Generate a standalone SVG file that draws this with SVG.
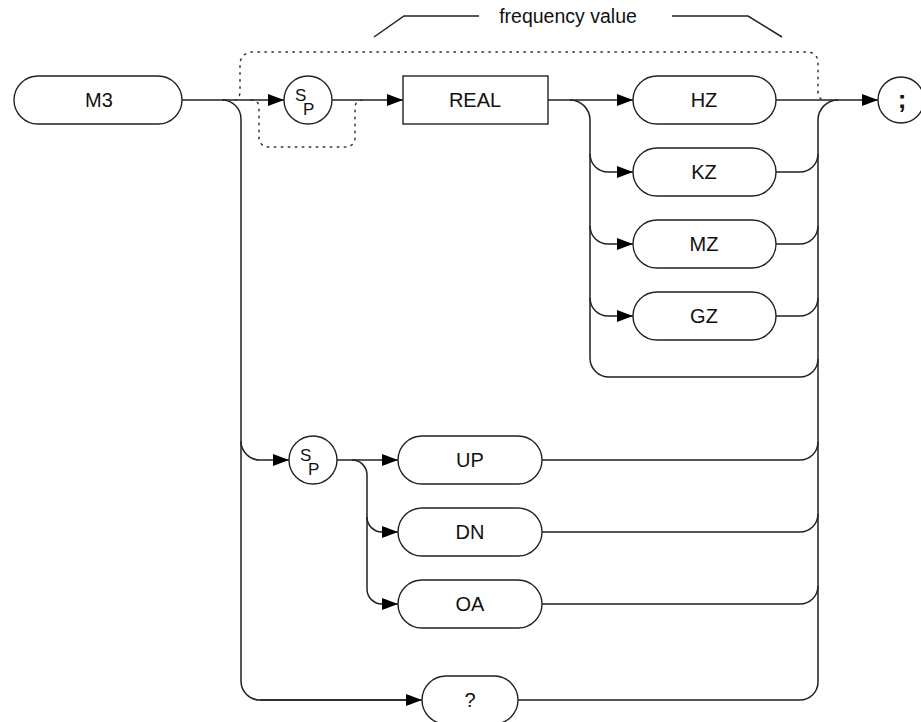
<svg xmlns="http://www.w3.org/2000/svg" width="921" height="722" viewBox="0 0 921 722">
<style>
.n{fill:#fff;stroke:#222;stroke-width:1.4}
.t{font-family:"Liberation Sans",Arial,sans-serif;font-size:20px;fill:#111;text-anchor:middle}
.c{fill:none;stroke:#222;stroke-width:1.5}
.a{fill:none;stroke:#222;stroke-width:1.5;marker-end:url(#ar)}
.d{fill:none;stroke:#333;stroke-width:1.5;stroke-dasharray:1.5 5.5;stroke-linecap:round}
.sp{font-family:"Liberation Sans",Arial,sans-serif;font-size:17px;fill:#111}
</style>
<defs>
<marker id="ar" markerUnits="userSpaceOnUse" markerWidth="16" markerHeight="12" refX="16" refY="6" orient="auto">
<path d="M0,0 L16,6 L0,12 z" fill="#000"/>
</marker>
</defs>
<rect width="921" height="722" fill="#fff"/>
<g id="connectors">
<path class="a" d="M182,100 H284"/>
<path class="a" d="M332,100 H403"/>
<path class="a" d="M548,100 H633"/>
<path class="a" d="M776,100 H878"/>
<path class="c" d="M570,100 A20,20 0 0 1 590,120 V358 A19,19 0 0 0 609,377 H800 A18,18 0 0 0 818,359"/>
<path class="a" d="M590,154 A18,18 0 0 0 608,172 H633"/>
<path class="a" d="M590,226 A18,18 0 0 0 608,244 H633"/>
<path class="a" d="M590,298 A18,18 0 0 0 608,316 H633"/>
<path class="c" d="M776,172 H800 A18,18 0 0 0 818,154"/>
<path class="c" d="M776,244 H800 A18,18 0 0 0 818,226"/>
<path class="c" d="M776,316 H800 A18,18 0 0 0 818,298"/>
<path class="c" d="M838,100 A20,20 0 0 0 818,120 V682 A18,18 0 0 1 800,700 H518"/>
<path class="c" d="M542,460 H800 A18,18 0 0 0 818,442"/>
<path class="c" d="M542,532 H800 A18,18 0 0 0 818,514"/>
<path class="c" d="M542,604 H800 A18,18 0 0 0 818,586"/>
<path class="c" d="M222,100 A19,19 0 0 1 241,119 V681 A19,19 0 0 0 260,700 H406"/>
<path class="a" d="M260,700 H422"/>
<path class="a" d="M241,441 A19,19 0 0 0 260,460 H289"/>
<path class="a" d="M337,460 H398"/>
<path class="c" d="M352,460 A15,15 0 0 1 367,475 V589"/>
<path class="a" d="M367,517 A15,15 0 0 0 382,532 H398"/>
<path class="a" d="M367,589 A15,15 0 0 0 382,604 H398"/>
<path class="d" d="M235,100 Q240,100 240,90 V64 A12,12 0 0 1 252,52 H808 A10,10 0 0 1 818,62 V92 Q818,100 826,100"/>
<path class="d" d="M251,100 Q259,100 259,108 V138 A9,9 0 0 0 268,147 H346 A9,9 0 0 0 355,138 V108 Q355,100 364,100"/>
<path class="c" d="M374,37 L404,16 H479"/>
<path class="c" d="M672,16 H748 L782,37"/>
</g>
<text class="t" x="568" y="23" style="font-size:19.5px">frequency value</text>
<g id="M3"><rect class="n" x="14" y="76" width="168" height="48" rx="24"/><text class="t" x="99" y="107">M3</text></g>
<g id="SP1"><circle class="n" cx="308" cy="100" r="24"/><text class="sp"><tspan x="295" y="101">S</tspan><tspan x="303" y="115">P</tspan></text></g>
<g id="REAL"><rect class="n" x="403" y="76" width="145" height="48"/><text class="t" x="475" y="107">REAL</text></g>
<g id="HZ"><rect class="n" x="633" y="76" width="143" height="48" rx="24"/><text class="t" x="704" y="107">HZ</text></g>
<g id="KZ"><rect class="n" x="633" y="148" width="143" height="48" rx="24"/><text class="t" x="704" y="179">KZ</text></g>
<g id="MZ"><rect class="n" x="633" y="220" width="143" height="48" rx="24"/><text class="t" x="704" y="251">MZ</text></g>
<g id="GZ"><rect class="n" x="633" y="292" width="143" height="48" rx="24"/><text class="t" x="704" y="323">GZ</text></g>
<g id="SEMI"><circle class="n" cx="901" cy="100" r="23"/><text class="t" x="902" y="108" style="font-size:26px;font-weight:bold">;</text></g>
<g id="SP2"><circle class="n" cx="313" cy="460" r="24"/><text class="sp"><tspan x="300" y="461">S</tspan><tspan x="308" y="475">P</tspan></text></g>
<g id="UP"><rect class="n" x="398" y="436" width="144" height="48" rx="24"/><text class="t" x="470" y="467">UP</text></g>
<g id="DN"><rect class="n" x="398" y="508" width="144" height="48" rx="24"/><text class="t" x="470" y="539">DN</text></g>
<g id="OA"><rect class="n" x="398" y="580" width="144" height="48" rx="24"/><text class="t" x="470" y="611">OA</text></g>
<g id="Q"><rect class="n" x="422" y="676" width="96" height="48" rx="24"/><text class="t" x="470" y="707">?</text></g>
</svg>
